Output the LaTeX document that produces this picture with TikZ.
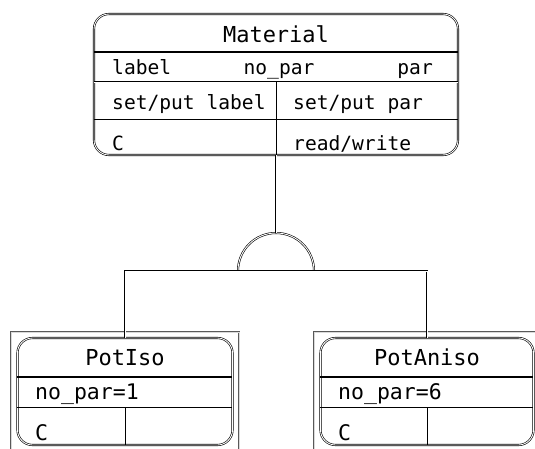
\documentclass[tikz,border=0pt]{standalone}
\usepackage{fontspec}
\setmainfont{DejaVu Sans Mono}
\usetikzlibrary{calc}

\tikzset{
  dbl/.style={draw=black, line width=0.6pt, double=white, double distance=0.9pt},
  classbox/.style={dbl, rectangle, rounded corners=15pt, inner sep=0pt, outer sep=0pt},
  titlerule/.style={draw=black, line width=1.4pt},
  rowrule/.style={draw=black, line width=1pt},
  colrule/.style={draw=black, line width=0.8pt},
  frame/.style={draw=black!65, line width=0.6pt, double=black!15, double distance=1pt},
  titletxt/.style={inner sep=0pt, anchor=base, font=\fontsize{22}{26}\selectfont},
  rowtxt/.style={inner sep=0pt, font=\fontsize{19.6}{24}\selectfont},
  subtxt/.style={inner sep=0pt, anchor=base west, font=\fontsize{21.5}{26}\selectfont},
}

\begin{document}
\begin{tikzpicture}[x=1pt, y=-1pt]
\useasboundingbox (0,0) rectangle (535,449);

% superclass Material
\node[classbox, minimum width=364pt, minimum height=141pt] (mat) at (276,84.5) {};
\path[titlerule] (94,52) -- (458,52);
\path[dbl] (94,82) -- (458,82);
\path[rowrule] (94,120) -- (458,120);
\path[colrule] (276,82) -- (276,155);
\node[titletxt] (matT) at (276,43) {Material};
\node[rowtxt, anchor=base west] (mA1) at (112,75) {label};
\node[rowtxt, anchor=base] (mA2) at (279,75) {no\_par};
\node[rowtxt, anchor=base east] (mA3) at (433,75) {par};
\node[rowtxt, anchor=base west] (mO1) at (112,110) {set/put label};
\node[rowtxt, anchor=base west] (mO2) at (293,110) {set/put par};
\node[rowtxt, anchor=base west] (mO3) at (112,151) {C};
\node[rowtxt, anchor=base west] (mO4) at (293,151) {read/write};

% inheritance half circle
\coordinate (sc) at (276,271);
\coordinate (scTop) at (276,233);
\coordinate (scL) at (238,271);
\draw[dbl] (scL) arc[start angle=180, end angle=0, radius=38pt];
\draw[dbl] (mat.south) -- (scTop);

% frames around the subclasses
\draw[frame] (11,449) -- (11,332) -- (239,332) -- (239,449);
\draw[frame] (314,449) -- (314,332) -- (536,332);

% subclass PotIso
\node[classbox, minimum width=215pt, minimum height=107pt] (iso) at (125,391.5) {};
\path[titlerule] (17,377) -- (232,377);
\path[rowrule] (17,407) -- (232,407);
\path[colrule] (125,407) -- (125,445);
\node[titletxt] (isoT) at (125,365) {PotIso};
\node[subtxt] (isoA) at (35,399) {no\_par=1};
\node[subtxt] (isoO) at (35,440) {C};

% subclass PotAniso
\node[classbox, minimum width=213pt, minimum height=107pt] (ani) at (427,391.5) {};
\path[titlerule] (320,377) -- (533,377);
\path[rowrule] (320,407) -- (533,407);
\path[colrule] (427,407) -- (427,445);
\node[titletxt] (aniT) at (427,365) {PotAniso};
\node[subtxt] (aniA) at (338,399) {no\_par=6};
\node[subtxt] (aniO) at (338,440) {C};

% generalisation connectors
\draw[dbl] (iso.north) -- (iso.north |- sc) -- (ani.north |- sc) -- (ani.north);
\end{tikzpicture}
\end{document}
